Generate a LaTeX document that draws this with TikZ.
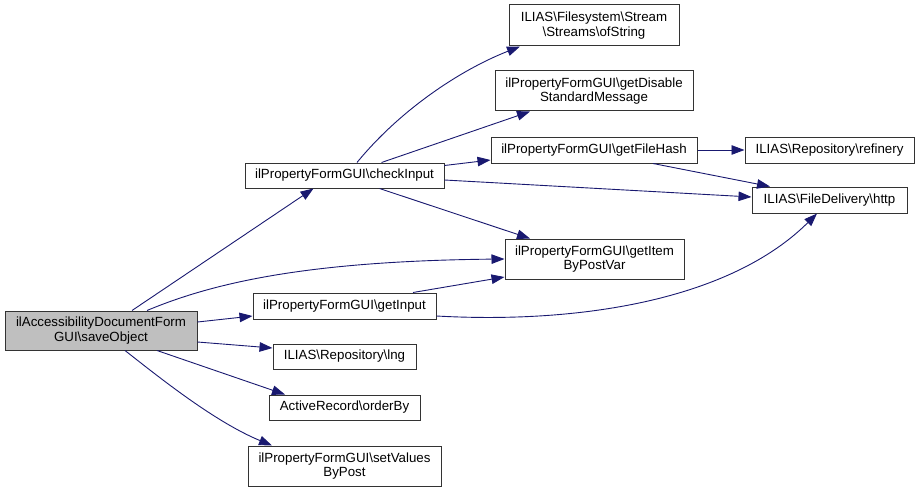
\documentclass[tikz,border=0pt]{standalone}
\usepackage{fontspec}
\setmainfont{Liberation Sans}
\usetikzlibrary{arrows.meta}
\definecolor{edgeblue}{RGB}{25,25,112}
\definecolor{boxgray}{RGB}{191,191,191}
\begin{document}
\begin{tikzpicture}[x=1pt,y=-1pt,
  box/.style={draw=black!80, line width=1pt, fill=white, rectangle, inner sep=0pt, align=center,
    font=\fontsize{13.3}{14.7}\selectfont},
  edge/.style={draw=edgeblue, line width=0.9pt, -{Triangle[length=13pt,width=9.5pt]}}
]
\useasboundingbox (0,0) rectangle (920,492);
\node[box, fill=boxgray, minimum width=192pt, minimum height=39pt] (save) at (101,330.5) {ilAccessibilityDocumentForm\\GUI\textbackslash saveObject};
\node[box, minimum width=199pt, minimum height=25pt] (check) at (344.5,175.5) {ilPropertyFormGUI\textbackslash checkInput};
\node[box, minimum width=183pt, minimum height=26pt] (getinput) at (344.5,306) {ilPropertyFormGUI\textbackslash getInput};
\node[box, minimum width=179pt, minimum height=40pt] (getitem) at (594.5,259) {ilPropertyFormGUI\textbackslash getItem\\ByPostVar};
\node[box, minimum width=143pt, minimum height=25pt] (lng) at (344.5,356.5) {ILIAS\textbackslash Repository\textbackslash lng};
\node[box, minimum width=151pt, minimum height=25pt] (orderby) at (344.5,407.5) {ActiveRecord\textbackslash orderBy};
\node[box, minimum width=193pt, minimum height=40pt] (setvalues) at (344.5,466) {ilPropertyFormGUI\textbackslash setValues\\ByPost};
\node[box, minimum width=170pt, minimum height=41pt] (ofstring) at (594,25.5) {ILIAS\textbackslash Filesystem\textbackslash Stream\\\textbackslash Streams\textbackslash ofString};
\node[box, minimum width=198pt, minimum height=40pt] (disable) at (594,91) {ilPropertyFormGUI\textbackslash getDisable\\StandardMessage};
\node[box, minimum width=206pt, minimum height=26pt] (filehash) at (594,150) {ilPropertyFormGUI\textbackslash getFileHash};
\node[box, minimum width=169pt, minimum height=26pt] (refinery) at (829.5,150) {ILIAS\textbackslash Repository\textbackslash refinery};
\node[box, minimum width=155pt, minimum height=26pt] (http) at (829.5,200) {ILIAS\textbackslash FileDelivery\textbackslash http};

% saveObject edges
\draw[edge] ([xshift=31pt]save.north) -- ([xshift=-31pt]check.south);
\draw[edge] ([xshift=46pt]save.north) .. controls (215,282) and (310,261) .. (getitem.west);
\draw[edge] ([yshift=8.5pt]save.east) -- ([yshift=-10pt]getinput.west);
\draw[edge] ([yshift=-11.5pt]save.east) -- ([yshift=8.5pt]lng.west);
\draw[edge] ([xshift=56pt]save.south) -- ([xshift=-59.5pt]orderby.north);
\draw[edge] ([xshift=24pt]save.south) .. controls (160,378) and (215,422) .. ([xshift=-72.5pt]setvalues.north);
% checkInput edges
\draw[edge] ([xshift=12.5pt]check.north) .. controls (400,110) and (460,70) .. ([xshift=-74pt]ofstring.south);
\draw[edge] ([xshift=37pt]check.north) -- ([xshift=-64pt]disable.south);
\draw[edge] ([yshift=10pt]check.east) -- ([yshift=-10pt]filehash.west);
\draw[edge] ([yshift=-4.5pt]check.east) -- ([yshift=3pt]http.west);
\draw[edge] ([xshift=35pt]check.south) -- ([xshift=-64.5pt]getitem.north);
% getInput edges
\draw[edge] ([xshift=68.5pt]getinput.north) -- ([yshift=-18pt]getitem.west);
\draw[edge] ([yshift=-10pt]getinput.east) .. controls (580,324) and (730,300) .. ([xshift=-12.5pt]http.south);
% getFileHash edges
\draw[edge] (filehash.east) -- (refinery.west);
\draw[edge] ([xshift=59pt]filehash.south) -- ([xshift=-59.5pt]http.north);
\end{tikzpicture}
\end{document}
